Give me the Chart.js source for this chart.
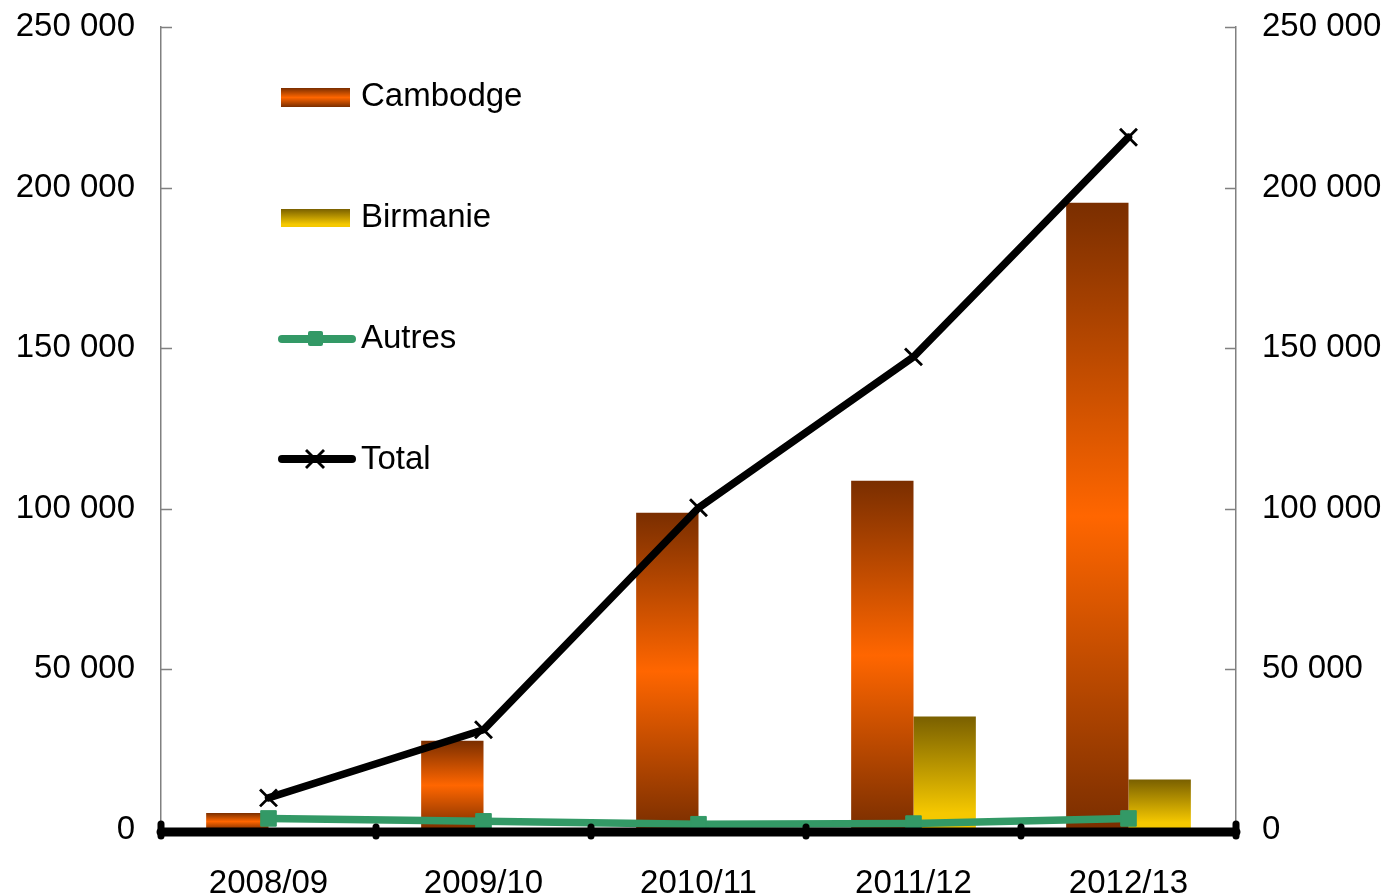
<!DOCTYPE html>
<html>
<head>
<meta charset="utf-8">
<script src="https://cdn.jsdelivr.net/npm/chart.js@4"></script>
<style>
  html, body { margin: 0; padding: 0; background: #fff; }
  #wrap { position: relative; width: 1389px; height: 896px; }
  .lg { position: absolute; font-family: "Liberation Sans", Arial, sans-serif; font-size: 33px; line-height: 33px; color: #000; white-space: nowrap; }
  #icons { position: absolute; left: 0; top: 0; }
</style>
</head>
<body>
<div id="wrap">
  <canvas id="c" width="1389" height="896"></canvas>
  <svg id="icons" width="400" height="500">
    <defs>
      <linearGradient id="gCam" x1="0" y1="0" x2="0" y2="1">
        <stop offset="0" stop-color="#7A2E00"/>
        <stop offset="0.5" stop-color="#FF6600"/>
        <stop offset="1" stop-color="#7A2E00"/>
      </linearGradient>
      <linearGradient id="gBir" x1="0" y1="0" x2="0" y2="1">
        <stop offset="0" stop-color="#7A6000"/>
        <stop offset="0.85" stop-color="#F5C800"/>
        <stop offset="1" stop-color="#F5C800"/>
      </linearGradient>
    </defs>
    <rect x="281" y="88" width="69" height="19" fill="url(#gCam)"/>
    <rect x="281" y="209" width="69" height="18" fill="url(#gBir)"/>
    <line x1="282" y1="339" x2="352" y2="339" stroke="#339966" stroke-width="8" stroke-linecap="round"/>
    <rect x="308" y="331" width="15" height="15" rx="2" fill="#339966"/>
    <line x1="282" y1="459" x2="352" y2="459" stroke="#000" stroke-width="8" stroke-linecap="round"/>
    <line x1="306" y1="450" x2="324" y2="468" stroke="#000" stroke-width="2.8"/>
    <line x1="306" y1="468" x2="324" y2="450" stroke="#000" stroke-width="2.8"/>
  </svg>
  <div class="lg" style="left:361px; top:78px;">Cambodge</div>
  <div class="lg" style="left:361px; top:199px;">Birmanie</div>
  <div class="lg" style="left:361px; top:320px;">Autres</div>
  <div class="lg" style="left:361px; top:441px;">Total</div>
</div>
<script>
// ---- Data ----
const categories = ['2008/09', '2009/10', '2010/11', '2011/12', '2012/13'];
const cambodge = [5300, 27800, 98800, 108700, 195300];
const birmanie = [0, 0, 0, 35300, 15700];
const autres = [3600, 2700, 1800, 2000, 3600];
const total = [10000, 31200, 100300, 147300, 215700];
const yTicks = [0, 50000, 100000, 150000, 200000, 250000];

const seriesNames = ['Cambodge', 'Birmanie', 'Autres', 'Total'];

function fmt(v) {
  return String(Math.round(v)).replace(/\B(?=(\d{3})+(?!\d))/g, ' ');
}

function barGradient(stops, solid) {
  return function (ctx) {
    const chart = ctx.chart;
    if (!chart.chartArea || ctx.type !== 'data') return solid;
    const ys = chart.scales.y;
    const top = ys.getPixelForValue(ctx.raw);
    const base = ys.getPixelForValue(0);
    if (!isFinite(top) || !isFinite(base) || Math.abs(base - top) < 0.5) return solid;
    const g = chart.ctx.createLinearGradient(0, top, 0, base);
    stops.forEach(s => g.addColorStop(s[0], s[1]));
    return g;
  };
}

const axisDecor = {
  id: 'axisDecor',
  afterDatasetsDraw(chart) {
    const ctx = chart.ctx;
    const area = chart.chartArea;
    const ys = chart.scales.y;
    const xs = chart.scales.x;
    ctx.save();
    // inner tick marks on both value axes
    ctx.strokeStyle = '#808080';
    ctx.lineWidth = 1.5;
    yTicks.forEach(v => {
      const py = Math.round(ys.getPixelForValue(v)) + 0.5;
      if (v === 0) return;
      ctx.beginPath();
      ctx.moveTo(area.left, py); ctx.lineTo(area.left + 11, py);
      ctx.moveTo(area.right, py); ctx.lineTo(area.right - 11, py);
      ctx.stroke();
    });
    // thick black category axis
    const y0 = ys.getPixelForValue(0) + 2;
    ctx.strokeStyle = '#000';
    ctx.lineCap = 'round';
    ctx.lineWidth = 9;
    ctx.beginPath();
    ctx.moveTo(area.left, y0); ctx.lineTo(area.right, y0);
    ctx.stroke();
    // boundary tick marks
    const bounds = [area.left];
    for (let i = 0; i < categories.length - 1; i++) {
      bounds.push((xs.getPixelForValue(i) + xs.getPixelForValue(i + 1)) / 2);
    }
    bounds.push(area.right);
    ctx.lineWidth = 7;
    bounds.forEach((bx, i) => {
      const ext = (i === 0 || i === bounds.length - 1) ? 8 : 5;
      ctx.beginPath();
      ctx.moveTo(bx, y0 - ext); ctx.lineTo(bx, y0 + 4);
      ctx.stroke();
    });
    ctx.restore();
  }
};

const tickFont = { family: '"Liberation Sans", Arial, sans-serif', size: 33 };

function fitY(width) {
  return function (s) {
    s.width = width;
    s.paddingTop = 0;
    s.paddingBottom = 0;
  };
}

new Chart(document.getElementById('c'), {
  data: {
    labels: categories,
    datasets: [
      {
        type: 'bar', label: seriesNames[0], data: cambodge, order: 3, yAxisID: 'y',
        backgroundColor: barGradient([[0, '#7A2E00'], [0.5, '#FF6600'], [1, '#7A2E00']], '#FF6600'),
        borderWidth: 0, categoryPercentage: 0.58, barPercentage: 1
      },
      {
        type: 'bar', label: seriesNames[1], data: birmanie, order: 3, yAxisID: 'y',
        backgroundColor: barGradient([[0, '#7A6000'], [0.85, '#F5C800'], [1, '#F5C800']], '#F5C800'),
        borderWidth: 0, categoryPercentage: 0.58, barPercentage: 1
      },
      {
        type: 'line', label: seriesNames[2], data: autres, order: 1, yAxisID: 'y',
        borderColor: '#339966', backgroundColor: '#339966', borderWidth: 7.5,
        pointStyle: 'rect', pointRadius: 11, pointBackgroundColor: '#339966',
        pointBorderColor: '#339966', pointBorderWidth: 1, tension: 0, fill: false,
        borderCapStyle: 'round', borderJoinStyle: 'round'
      },
      {
        type: 'line', label: seriesNames[3], data: total, order: 0, yAxisID: 'y',
        borderColor: '#000', backgroundColor: '#000', borderWidth: 7.5,
        pointStyle: 'crossRot', pointRadius: 12, pointBorderColor: '#000',
        pointBorderWidth: 2.8, tension: 0, fill: false,
        borderCapStyle: 'round', borderJoinStyle: 'round'
      }
    ]
  },
  plugins: [axisDecor],
  options: {
    responsive: false,
    animation: false,
    devicePixelRatio: 1,
    layout: { padding: { top: 27, bottom: 0, left: 0, right: 0 } },
    plugins: { legend: { display: false }, tooltip: { enabled: false } },
    scales: {
      x: {
        type: 'category', offset: true,
        grid: { display: false, drawTicks: false },
        border: { display: false },
        ticks: { font: tickFont, color: '#000', padding: 34, maxRotation: 0, autoSkip: false },
        afterFit(s) { s.height = 66; s.paddingLeft = 0; s.paddingRight = 0; }
      },
      y: {
        type: 'linear', position: 'left', min: 0, max: 250000,
        afterBuildTicks(s) { s.ticks = yTicks.map(v => ({ value: v })); },
        grid: { display: true, drawOnChartArea: false, drawTicks: false },
        border: { display: true, color: '#808080', width: 1.5 },
        ticks: { font: tickFont, color: '#000', padding: 26, callback: v => fmt(v) },
        afterFit: fitY(161)
      },
      y2: {
        type: 'linear', position: 'right', min: 0, max: 250000,
        afterBuildTicks(s) { s.ticks = yTicks.map(v => ({ value: v })); },
        grid: { display: true, drawOnChartArea: false, drawTicks: false },
        border: { display: true, color: '#808080', width: 1.5 },
        ticks: { font: tickFont, color: '#000', padding: 26, callback: v => fmt(v) },
        afterFit: fitY(153)
      }
    }
  }
});
</script>
</body>
</html>
